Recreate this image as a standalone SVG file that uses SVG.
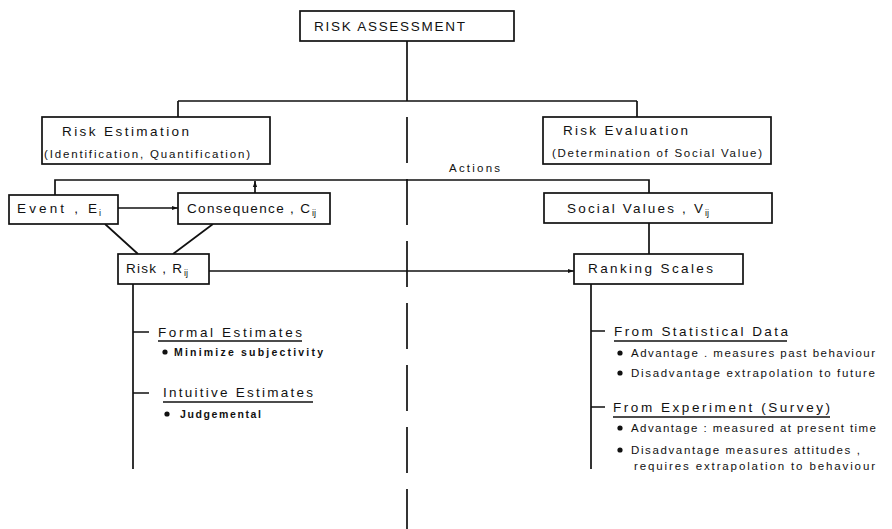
<svg xmlns="http://www.w3.org/2000/svg" width="892" height="529" viewBox="0 0 892 529">
<style>
.box{fill:#fff;stroke:#111;stroke-width:1.7}
.ln{fill:none;stroke:#111;stroke-width:1.7}
.t{font-family:"Liberation Sans",Arial,sans-serif;fill:#111;font-size:13.5px}
.s{font-family:"Liberation Sans",Arial,sans-serif;fill:#111;font-size:11.5px}
.b{font-family:"Liberation Sans",Arial,sans-serif;fill:#111;font-size:10.5px;font-weight:bold}
.sub{font-family:"Liberation Sans",Arial,sans-serif;fill:#111;font-size:9px}
</style>
<defs>
<marker id="ah" viewBox="0 0 10 10" refX="10" refY="5" markerWidth="6" markerHeight="6" orient="auto" markerUnits="userSpaceOnUse">
<path d="M0,1.5 L10,5 L0,8.5 z" fill="#111"/>
</marker>
</defs>
<rect width="892" height="529" fill="#fff"/>
<g id="connectors">
<path class="ln" d="M407,41 V101 M178,101 H637 M178,101 V117 M637,101 V117"/>
<path class="ln" d="M407,117 V529" stroke-dasharray="46 16"/>
<path class="ln" d="M55,195 V180 H649 V193"/>
<path class="ln" d="M118,208 H178" marker-end="url(#ah)"/>
<path class="ln" d="M255,193 V181" marker-end="url(#ah)"/>
<path class="ln" d="M105,224 L138,254 M213,224 L173,254"/>
<path class="ln" d="M209,271 H574" marker-end="url(#ah)"/>
<path class="ln" d="M649,223 V254"/>
<path class="ln" d="M133,284 V469 M133,332 H149 M133,393 H149"/>
<path class="ln" d="M591,284 V469 M591,331 H605 M591,407 H605"/>
</g>
<g id="risk-assessment">
<rect class="box" x="300" y="11" width="214" height="30"/>
<text class="t" x="314" y="31" textLength="151" lengthAdjust="spacing">RISK ASSESSMENT</text>
</g>
<g id="risk-estimation">
<rect class="box" x="42" y="117" width="228" height="47"/>
<text class="t" x="62" y="136" textLength="127" lengthAdjust="spacing">Risk Estimation</text>
<text class="s" x="44" y="158" textLength="206" lengthAdjust="spacing">(Identification, Quantification)</text>
</g>
<g id="risk-evaluation">
<rect class="box" x="543" y="117" width="228" height="47"/>
<text class="t" x="563" y="135" textLength="125" lengthAdjust="spacing">Risk Evaluation</text>
<text class="s" x="552" y="157" textLength="210" lengthAdjust="spacing">(Determination of Social Value)</text>
</g>
<g id="actions">
<text class="s" x="449" y="172" textLength="51" lengthAdjust="spacing">Actions</text>
</g>
<g id="event">
<rect class="box" x="9" y="195" width="109" height="29"/>
<text class="t" x="17" y="213" textLength="80" lengthAdjust="spacing">Event , E</text>
<text class="sub" x="99" y="216">i</text>
</g>
<g id="consequence">
<rect class="box" x="178" y="193" width="152" height="31"/>
<text class="t" x="187" y="213" textLength="123" lengthAdjust="spacing">Consequence , C</text>
<text class="sub" x="312" y="216">ij</text>
</g>
<g id="social-values">
<rect class="box" x="544" y="193" width="228" height="30"/>
<text class="t" x="567" y="213" textLength="136" lengthAdjust="spacing">Social Values , V</text>
<text class="sub" x="705" y="216">ij</text>
</g>
<g id="risk">
<rect class="box" x="118" y="254" width="91" height="30"/>
<text class="t" x="126" y="273" textLength="56" lengthAdjust="spacing">Risk , R</text>
<text class="sub" x="184" y="276">ij</text>
</g>
<g id="ranking-scales">
<rect class="box" x="574" y="254" width="169" height="30"/>
<text class="t" x="588" y="273" textLength="125" lengthAdjust="spacing">Ranking Scales</text>
</g>
<g id="formal-estimates">
<text class="t" x="158" y="337" textLength="144" lengthAdjust="spacing">Formal Estimates</text>
<path class="ln" d="M158,341 H302" stroke-width="1"/>
<circle cx="165" cy="352" r="2.6" fill="#111"/>
<text class="b" x="174" y="356" textLength="149" lengthAdjust="spacing">Minimize subjectivity</text>
</g>
<g id="intuitive-estimates">
<text class="t" x="163" y="397" textLength="150" lengthAdjust="spacing">Intuitive Estimates</text>
<path class="ln" d="M163,402 H313" stroke-width="1"/>
<circle cx="167" cy="414" r="2.6" fill="#111"/>
<text class="b" x="180" y="418" textLength="81" lengthAdjust="spacing">Judgemental</text>
</g>
<g id="statistical-data">
<text class="t" x="614" y="336" textLength="174" lengthAdjust="spacing">From Statistical Data</text>
<path class="ln" d="M614,341 H787" stroke-width="1"/>
<circle cx="620" cy="353" r="2.6" fill="#111"/>
<text class="s" x="631" y="357" textLength="244" lengthAdjust="spacing">Advantage . measures past behaviour</text>
<circle cx="620" cy="373" r="2.6" fill="#111"/>
<text class="s" x="631" y="377" textLength="244" lengthAdjust="spacing">Disadvantage extrapolation to future</text>
</g>
<g id="experiment">
<text class="t" x="613" y="412" textLength="217" lengthAdjust="spacing">From Experiment (Survey)</text>
<path class="ln" d="M613,417 H830" stroke-width="1"/>
<circle cx="620" cy="428" r="2.6" fill="#111"/>
<text class="s" x="631" y="432" textLength="245" lengthAdjust="spacing">Advantage : measured at present time</text>
<circle cx="620" cy="450" r="2.6" fill="#111"/>
<text class="s" x="631" y="454" textLength="229" lengthAdjust="spacing">Disadvantage measures attitudes ,</text>
<text class="s" x="634" y="470" textLength="241" lengthAdjust="spacing">requires extrapolation to behaviour</text>
</g>
</svg>
